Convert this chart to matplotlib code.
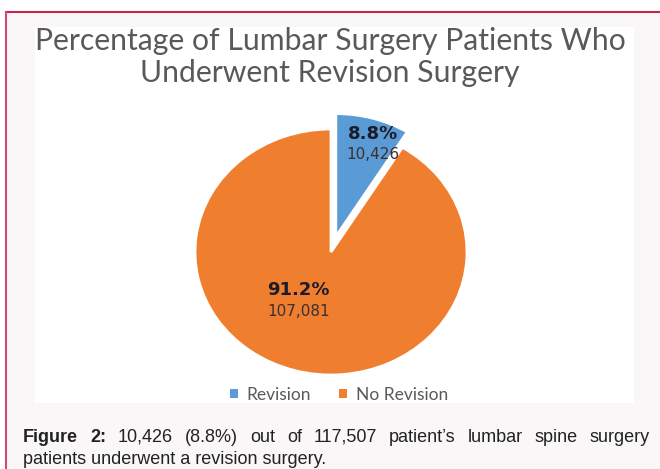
import matplotlib.pyplot as plt
from matplotlib.patches import Rectangle
from matplotlib.lines import Line2D

# revision vs no-revision lumbar surgery patients
categories = ['Revision', 'No Revision']
pct = [8.8, 91.2]
counts = [10426, 107081]
colors = ['#5B9BD5', '#EF7E2F']
explode = [0.13, 0.0]

total = sum(counts)

W, H = 660, 469
fig = plt.figure(figsize=(W / 100, H / 100), dpi=100, facecolor='white')

def fx(px):
    return px / W

def fy(py):
    return 1 - py / H

# page background + red frame
fig.patches.append(Rectangle((fx(6), 0), 1 - fx(6), fy(12), transform=fig.transFigure,
                             facecolor='#faf7f8', edgecolor='none', zorder=-3))
fig.patches.append(Rectangle((fx(35), fy(403)), fx(634) - fx(35), fy(27) - fy(403),
                             transform=fig.transFigure, facecolor='white',
                             edgecolor='none', zorder=-2))
fig.lines.append(Line2D([fx(6), 1], [fy(12), fy(12)], transform=fig.transFigure,
                        color='#c8234a', lw=1.5))
fig.lines.append(Line2D([fx(6), fx(6)], [0, fy(12)], transform=fig.transFigure,
                        color='#d24a72', lw=1.5))

# pie axes (slightly stretched horizontally)
cx, cy, rx, ry = 331, 252, 136, 123
ax = fig.add_axes([fx(cx - 1.1 * rx), fy(cy + 1.1 * ry), 2.2 * rx / W, 2.2 * ry / H])
ax.patch.set_alpha(0)
wedges, _ = ax.pie(pct, colors=colors, startangle=90, counterclock=False,
                   explode=explode, wedgeprops=dict(edgecolor='white', linewidth=2))
ax.set_aspect('auto')
ax.set_xlim(-1.1, 1.1)
ax.set_ylim(-1.1, 1.1)
ax.axis('off')

label_pos = [(0.31, 0.875), (-0.24, -0.395)]
for (x, y), p, n in zip(label_pos, pct, counts):
    ax.text(x, y + 0.085, f'{p:.1f}%', ha='center', va='center', fontsize=13,
            fontweight='bold', color='#1b1b2a', family='DejaVu Sans')
    ax.text(x, y - 0.085, f'{n:,}', ha='center', va='center', fontsize=11,
            color='#3a3030', family='DejaVu Sans')

fig.text(0.5, fy(57), 'Percentage of Lumbar Surgery Patients Who\nUnderwent Revision Surgery',
         ha='center', va='center', fontsize=21.7, color='#595959', family='Lato',
         linespacing=1.15)

handles = [Rectangle((0, 0), 1, 1, facecolor=c) for c in colors]
fig.legend(handles, categories, loc='center', bbox_to_anchor=(fx(339), fy(395)), ncol=2,
           frameon=False, handlelength=0.45, handleheight=0.45, handletextpad=0.5,
           columnspacing=1.6, prop=dict(family='Lato', size=12.5), labelcolor='#595959')

# justified caption, first line spread between two margins
line1 = [('Figure', 'bold'), ('2:', 'bold'), (f'{counts[0]:,}', 'normal'),
         (f'({pct[0]:.1f}%)', 'normal'), ('out', 'normal'), ('of', 'normal'),
         (f'{total:,}', 'normal'), ('patient\u2019s', 'normal'), ('lumbar', 'normal'),
         ('spine', 'normal'), ('surgery', 'normal')]
left, right = 23, 650
texts = [fig.text(0, fy(437), w, fontsize=13, fontweight=wt, family='Liberation Sans',
                  color='#222222', va='center') for w, wt in line1]
fig.canvas.draw()
r = fig.canvas.get_renderer()
widths = [t.get_window_extent(r).width for t in texts]
gap = (right - left - sum(widths)) / (len(texts) - 1)
x = left
for t, w in zip(texts, widths):
    t.set_x(fx(x))
    x += w + gap

fig.text(fx(left), fy(459), 'patients underwent a revision surgery.', fontsize=13,
         family='Liberation Sans', color='#222222', va='center')

fig.savefig('out.png', dpi=100, facecolor='white')
